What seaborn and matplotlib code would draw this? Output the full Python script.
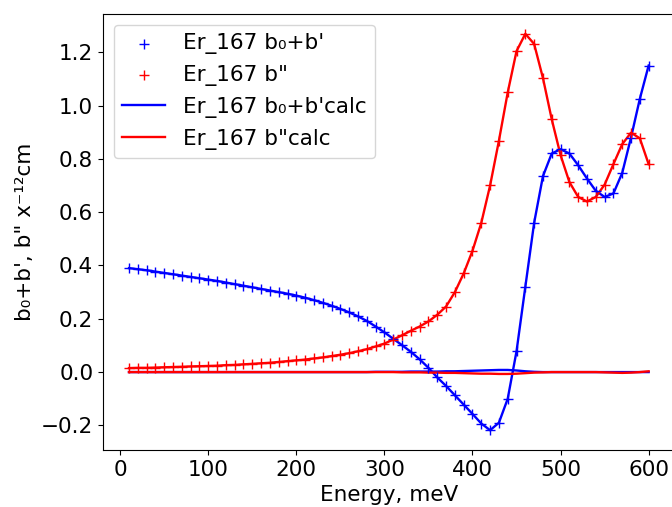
import numpy as np
import pandas as pd
import matplotlib
matplotlib.use('Agg')
import matplotlib.pyplot as plt
import seaborn as sns

# energies, meV
energy = list(range(10, 601, 10))

b0_bp = [0.390, 0.386, 0.382, 0.377, 0.372, 0.367, 0.362, 0.357, 0.352, 0.347,
         0.342, 0.336, 0.330, 0.324, 0.318, 0.312, 0.306, 0.300, 0.294, 0.287,
         0.279, 0.270, 0.260, 0.249, 0.237, 0.224, 0.209, 0.192, 0.171, 0.149,
         0.125, 0.101, 0.076, 0.048, 0.016, -0.020, -0.052, -0.087, -0.122, -0.157,
         -0.193, -0.218, -0.190, -0.100, 0.078, 0.320, 0.560, 0.735, 0.820, 0.836,
         0.820, 0.776, 0.726, 0.680, 0.657, 0.670, 0.747, 0.880, 1.025, 1.150]

b_pp = [0.015, 0.016, 0.016, 0.017, 0.018, 0.019, 0.020, 0.021, 0.022, 0.023,
        0.024, 0.026, 0.027, 0.029, 0.031, 0.033, 0.035, 0.038, 0.041, 0.044,
        0.047, 0.051, 0.055, 0.060, 0.065, 0.071, 0.078, 0.086, 0.096, 0.107,
        0.122, 0.138, 0.155, 0.171, 0.190, 0.215, 0.246, 0.300, 0.370, 0.455,
        0.560, 0.700, 0.868, 1.049, 1.204, 1.269, 1.231, 1.103, 0.948, 0.814,
        0.713, 0.657, 0.640, 0.657, 0.703, 0.780, 0.855, 0.898, 0.877, 0.780]

# fitted curves (lie on top of the data points)
b0_bp_calc = list(b0_bp)
b_pp_calc = list(b_pp)

# residual-like curves near zero
b0_bp_res = [0.0, 0.0, 0.0, 0.0, 0.0, 0.0, 0.0, 0.0, 0.0, 0.0,
             0.0, 0.0, 0.0, 0.0, 0.0, 0.0, 0.0, 0.0, 0.0, 0.0,
             0.0, 0.0, 0.0, 0.0, 0.0, 0.0, 0.0, 0.0, 0.001, 0.001,
             0.001, 0.001, 0.002, 0.002, 0.002, 0.002, 0.003, 0.003, 0.004, 0.005,
             0.006, 0.007, 0.008, 0.008, 0.006, 0.003, 0.001, 0.0, 0.0, 0.0,
             0.0, 0.0, 0.0, 0.0, 0.0, 0.0, 0.0, 0.0, 0.0, 0.0]
b_pp_res = [0.0, 0.0, 0.0, 0.0, 0.0, 0.0, 0.0, 0.0, 0.0, 0.0,
            0.0, 0.0, 0.0, 0.0, 0.0, 0.0, 0.0, 0.0, 0.0, 0.0,
            0.0, 0.0, 0.0, 0.0, 0.0, 0.0, 0.0, 0.0, 0.0, 0.0,
            0.0, -0.001, -0.001, -0.001, -0.002, -0.002, -0.003, -0.003, -0.004, -0.005,
            -0.006, -0.006, -0.007, -0.007, -0.006, -0.004, -0.002, -0.001, 0.0, 0.0,
            0.0, 0.0, 0.0, 0.0, -0.001, -0.002, -0.003, -0.002, 0.0, 0.003]

df = pd.DataFrame({'energy': energy, 'b0_bp': b0_bp, 'b_pp': b_pp,
                   'b0_bp_calc': b0_bp_calc, 'b_pp_calc': b_pp_calc,
                   'b0_bp_res': b0_bp_res, 'b_pp_res': b_pp_res})

plt.rcParams['font.size'] = 15.5

fig = plt.figure(figsize=(6.72, 5.07), dpi=100)
ax = fig.add_axes([0.1533, 0.1124, 0.8506, 0.86])

sns.scatterplot(data=df, x='energy', y='b0_bp', marker='+', color='blue',
                s=55, linewidth=1.0, label="Er_167 b\u2080+b'", ax=ax, zorder=3)
sns.scatterplot(data=df, x='energy', y='b_pp', marker='+', color='red',
                s=55, linewidth=1.0, label='Er_167 b"', ax=ax, zorder=3)
sns.lineplot(data=df, x='energy', y='b0_bp_calc', color='blue', linewidth=1.7,
             label="Er_167 b\u2080+b'calc", ax=ax)
sns.lineplot(data=df, x='energy', y='b_pp_calc', color='red', linewidth=1.7,
             label='Er_167 b"calc', ax=ax)
sns.lineplot(data=df, x='energy', y='b0_bp_res', color='blue', linewidth=1.7,
             ax=ax, legend=False)
sns.lineplot(data=df, x='energy', y='b_pp_res', color='red', linewidth=1.7,
             ax=ax, legend=False)

ax.set_xlabel('Energy, meV')
ax.set_ylabel('b\u2080+b\', b" x\u207b\u00b9\u00b2cm')
ax.legend(loc='upper left')

plt.savefig('out.png', dpi=100)
plt.close()
